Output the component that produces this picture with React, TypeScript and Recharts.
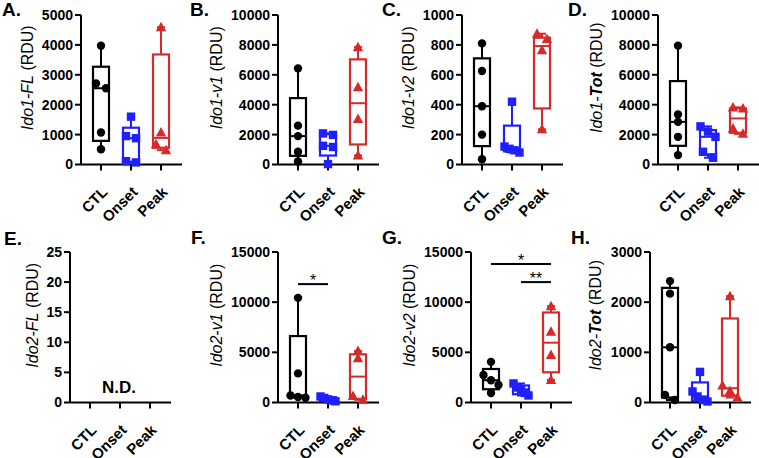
import React from 'react';
import { ComposedChart, Bar, Scatter, XAxis, YAxis, ReferenceLine } from 'recharts';

const FONT = '"Liberation Sans", Arial, Helvetica, sans-serif';
const CATEGORIES = ['CTL', 'Onset', 'Peak'];
const GROUP_COLORS = ['#000000', '#1f1fff', '#d62a2a'];

// ---------- Data (points per group; box = [min, q1, median, q3, max]) ----------
const A_TICKS = [0, 1000, 2000, 3000, 4000, 5000];
const A_POINTS = [[3970, 2710, 2550, 1070, 510], [1600, 950, 880, 110, 70], [4590, 1070, 680, 480]];
const A_BOXES = [[510, 790, 2550, 3270, 3970], [70, 90, 880, 1230, 1600], [480, 560, 890, 3680, 4590]];

const B_TICKS = [0, 2000, 4000, 6000, 8000, 10000];
const B_POINTS = [[6430, 2600, 1900, 850, 200], [2080, 1980, 1250, 1170, 30], [7850, 5160, 3040, 600]];
const B_BOXES = [[200, 580, 1900, 4440, 6430], [30, 600, 1250, 2030, 2080], [600, 1340, 4100, 7030, 7850]];

const C_TICKS = [0, 200, 400, 600, 800, 1000];
const C_POINTS = [[810, 625, 390, 200, 35], [420, 120, 105, 95, 80], [875, 840, 765, 235]];
const C_BOXES = [[35, 123, 390, 710, 810], [80, 88, 105, 260, 420], [235, 375, 792, 848, 875]];

const D_TICKS = [0, 2000, 4000, 6000, 8000, 10000];
const D_POINTS = [[7950, 3350, 2850, 1850, 630], [2550, 2200, 1850, 850, 450], [3820, 3750, 2400, 2050]];
const D_BOXES = [[630, 1250, 2850, 5580, 7950], [450, 680, 1850, 2300, 2550], [2050, 2120, 3080, 3750, 3820]];

const E_TICKS = [0, 5, 10, 15, 20, 25];
const E_POINTS: number[][] = [[], [], []];
const E_BOXES: (number[] | null)[] = [null, null, null];
const E_NOTE = 'N.D.';
const E_NOTE_AT = 'Onset';
const E_NOTE_Y = 1.6;

const F_TICKS = [0, 5000, 10000, 15000];
const F_POINTS = [[10430, 2900, 700, 550, 480], [600, 450, 300, 200, 120], [5130, 4400, 650, 270]];
const F_BOXES = [[480, 520, 700, 6620, 10430], [120, 160, 300, 525, 600], [270, 360, 2580, 4800, 5130]];
const F_SIG = [{ from: 'CTL', to: 'Onset', y: 11800, text: '*' }];

const G_TICKS = [0, 5000, 10000, 15000];
const G_POINTS = [[4050, 2750, 2220, 1750, 950], [1900, 1500, 1300, 950, 700], [9600, 7050, 4730, 2250]];
const G_BOXES = [[950, 1320, 2220, 3340, 4050], [700, 825, 1300, 1700, 1900], [2250, 3010, 5960, 8970, 9600]];
const G_SIG = [
  { from: 'CTL', to: 'Peak', y: 13800, text: '*' },
  { from: 'Onset', to: 'Peak', y: 12000, text: '**' },
];

const H_TICKS = [0, 1000, 2000, 3000];
const H_POINTS = [[2420, 2170, 1100, 150, 50], [610, 220, 120, 50, 20], [2120, 340, 230, 100]];
const H_BOXES = [[50, 100, 1100, 2285, 2420], [20, 35, 120, 400, 610], [100, 135, 285, 1675, 2120]];

type Part = { t: string; italic?: boolean; bold?: boolean };
const TITLE_A: Part[] = [{ t: 'Ido1-FL', italic: true }, { t: ' (RDU)' }];
const TITLE_B: Part[] = [{ t: 'Ido1-v1', italic: true }, { t: ' (RDU)' }];
const TITLE_C: Part[] = [{ t: 'Ido1-v2', italic: true }, { t: ' (RDU)' }];
const TITLE_D: Part[] = [{ t: 'Ido1-', italic: true }, { t: 'Tot', italic: true, bold: true }, { t: ' (RDU)' }];
const TITLE_E: Part[] = [{ t: 'Ido2-FL', italic: true }, { t: ' (RDU)' }];
const TITLE_F: Part[] = [{ t: 'Ido2-v1', italic: true }, { t: ' (RDU)' }];
const TITLE_G: Part[] = [{ t: 'Ido2-v2', italic: true }, { t: ' (RDU)' }];
const TITLE_H: Part[] = [{ t: 'Ido2-', italic: true }, { t: 'Tot', italic: true, bold: true }, { t: ' (RDU)' }];

// ---------- Layout ----------
const ROWS = [{ top: 15, h: 149.5 }, { top: 252, h: 150.5 }];
const YW = 60, MT = 12, MR = 8, XH = 60, PW = 101, PAD_L = 5, BAND = 30;

const PANELS = [
  { id: 'A', row: 0, axisX: 81, titleDist: 54, letter: [2, 16], ticks: A_TICKS, points: A_POINTS, boxes: A_BOXES, title: TITLE_A },
  { id: 'B', row: 0, axisX: 278, titleDist: 62, letter: [190, 16], ticks: B_TICKS, points: B_POINTS, boxes: B_BOXES, title: TITLE_B },
  { id: 'C', row: 0, axisX: 462, titleDist: 54, letter: [382, 16], ticks: C_TICKS, points: C_POINTS, boxes: C_BOXES, title: TITLE_C },
  { id: 'D', row: 0, axisX: 658, titleDist: 62, letter: [568, 16], ticks: D_TICKS, points: D_POINTS, boxes: D_BOXES, title: TITLE_D },
  { id: 'E', row: 1, axisX: 70, titleDist: 38, letter: [4, 245], ticks: E_TICKS, points: E_POINTS, boxes: E_BOXES, title: TITLE_E, note: E_NOTE, noteAt: E_NOTE_AT, noteY: E_NOTE_Y },
  { id: 'F', row: 1, axisX: 278, titleDist: 62, letter: [191, 244], ticks: F_TICKS, points: F_POINTS, boxes: F_BOXES, title: TITLE_F, sig: F_SIG },
  { id: 'G', row: 1, axisX: 471, titleDist: 62, letter: [382, 244], ticks: G_TICKS, points: G_POINTS, boxes: G_BOXES, title: TITLE_G, sig: G_SIG },
  { id: 'H', row: 1, axisX: 650, titleDist: 55, letter: [571, 244], ticks: H_TICKS, points: H_POINTS, boxes: H_BOXES, title: TITLE_H },
];

// ---------- Helpers ----------
function computeJitter(vals: number[], max: number, plotH: number): number[] {
  const order = vals.map((_, i) => i).sort((a, b) => vals[b] - vals[a]);
  const offs = new Array(vals.length).fill(0);
  let cluster: number[] = [];
  const flush = () => {
    const k = cluster.length;
    if (k > 1) {
      const s = Math.min(10, 15 / (k - 1));
      cluster.forEach((idx, i) => { offs[idx] = (i - (k - 1) / 2) * s; });
    }
    cluster = [];
  };
  order.forEach((idx, n) => {
    if (n > 0) {
      const prev = order[n - 1];
      const dpx = ((vals[prev] - vals[idx]) / max) * plotH;
      if (dpx >= 7) flush();
    }
    cluster.push(idx);
  });
  flush();
  return offs;
}

function buildRows(cfg: any, max: number, plotH: number) {
  return CATEGORIES.map((name, ci) => {
    const row: any = { name };
    const b = cfg.boxes[ci];
    row.range = b ? [b[0], b[4]] : null;
    row.box = b;
    const pts = cfg.points[ci] || [];
    const jit = computeJitter(pts, max, plotH);
    for (let k = 0; k < 5; k++) {
      row['p' + k] = k < pts.length ? pts[k] : null;
      row['j' + k] = jit[k] || 0;
    }
    row.note = cfg.note && cfg.noteAt === name ? cfg.noteY : null;
    row.noteText = cfg.note && cfg.noteAt === name ? cfg.note : null;
    return row;
  });
}

const BoxShape = (props: any) => {
  const { x, y, width, height, payload } = props;
  const b = payload && payload.box;
  if (!b || !isFinite(x) || !isFinite(y) || !isFinite(height)) return <g />;
  const [mn, q1, md, q3, mx] = b;
  const py = (v: number) => y + (height * (mx - v)) / (mx - mn);
  const color = GROUP_COLORS[CATEGORIES.indexOf(payload.name)];
  const cx = x + width / 2;
  const left = x + 1, right = x + width - 1;
  const cap = 4;
  return (
    <g>
      <line x1={cx} x2={cx} y1={py(mx)} y2={py(q3)} stroke={color} strokeWidth={2} />
      <line x1={cx} x2={cx} y1={py(q1)} y2={py(mn)} stroke={color} strokeWidth={2} />
      <line x1={cx - cap} x2={cx + cap} y1={py(mx)} y2={py(mx)} stroke={color} strokeWidth={2} />
      <line x1={cx - cap} x2={cx + cap} y1={py(mn)} y2={py(mn)} stroke={color} strokeWidth={2} />
      <rect x={left} y={py(q3)} width={right - left} height={py(q1) - py(q3)} fill="none" stroke={color} strokeWidth={2.2} />
      <line x1={left} x2={right} y1={py(md)} y2={py(md)} stroke={color} strokeWidth={2} />
    </g>
  );
};

const makePointShape = (k: number) => (props: any) => {
  const { cx, cy, payload } = props;
  const v = payload ? payload['p' + k] : null;
  if (v == null || !isFinite(cx) || !isFinite(cy)) return <g />;
  const ci = CATEGORIES.indexOf(payload.name);
  const color = GROUP_COLORS[ci];
  const px = cx + (payload['j' + k] || 0);
  if (ci === 0) return <circle cx={px} cy={cy} r={4.2} fill={color} />;
  if (ci === 1) return <rect x={px - 4.2} y={cy - 4.2} width={8.4} height={8.4} fill={color} />;
  return <polygon points={`${px},${cy - 5.5} ${px + 5.2},${cy + 4} ${px - 5.2},${cy + 4}`} fill={color} />;
};
const POINT_SHAPES = [0, 1, 2, 3, 4].map(makePointShape);

const NoteShape = (props: any) => {
  const { cx, cy, payload } = props;
  if (!payload || payload.noteText == null || !isFinite(cx) || !isFinite(cy)) return <g />;
  return (
    <text x={cx - 1} y={cy} textAnchor="middle" fontSize={17} fontWeight={700} fontFamily={FONT} fill="#000">
      {payload.noteText}
    </text>
  );
};

const SigLabel = (props: any) => {
  const { viewBox, text } = props;
  if (!viewBox) return null;
  return (
    <text x={viewBox.x + viewBox.width / 2} y={viewBox.y + 1.5} textAnchor="middle" fontSize={16} fontFamily={FONT} fill="#000">
      {text}
    </text>
  );
};

const X_TICK_STYLE: any = {
  angle: -45,
  textAnchor: 'end',
  verticalAnchor: 'middle',
  fontSize: 15,
  fontWeight: 700,
  fill: '#000',
  fontFamily: FONT,
};

function Panel({ cfg }: { cfg: any }) {
  const row = ROWS[cfg.row];
  const width = YW + PW + MR;
  const height = MT + row.h + XH;
  const max = cfg.ticks[cfg.ticks.length - 1];
  const data = buildRows(cfg, max, row.h);
  const axisStyle = { stroke: '#000', strokeWidth: 2 };
  return (
    <div style={{ position: 'absolute', left: cfg.axisX - YW, top: row.top - MT, width, height }}>
      <ComposedChart width={width} height={height} data={data} margin={{ top: MT, right: MR, bottom: 0, left: 0 }}>
        <XAxis
          dataKey="name"
          type="category"
          padding={{ left: PAD_L, right: PW - PAD_L - 3 * BAND }}
          height={XH}
          axisLine={axisStyle}
          tickLine={axisStyle}
          tickSize={6}
          tickMargin={15}
          interval={0}
          tick={X_TICK_STYLE}
        />
        <YAxis
          type="number"
          domain={[0, max]}
          ticks={cfg.ticks}
          width={YW}
          axisLine={axisStyle}
          tickLine={axisStyle}
          tickSize={6}
          tickMargin={2}
          interval={0}
          tick={{ fontSize: 14, fontWeight: 700, fill: '#000', fontFamily: FONT }}
        />
        <Bar dataKey="range" barSize={18} shape={BoxShape} isAnimationActive={false} />
        {POINT_SHAPES.map((shape, k) => (
          <Scatter key={k} dataKey={'p' + k} shape={shape} isAnimationActive={false} />
        ))}
        {cfg.note ? <Scatter dataKey="note" shape={NoteShape} isAnimationActive={false} /> : null}
        {(cfg.sig || []).map((s: any, i: number) => (
          <ReferenceLine
            key={'sig' + i}
            segment={[{ x: s.from, y: s.y }, { x: s.to, y: s.y }]}
            stroke="#000"
            strokeWidth={2}
            label={<SigLabel text={s.text} />}
          />
        ))}
      </ComposedChart>
    </div>
  );
}

function Overlay() {
  return (
    <svg width={759} height={458} style={{ position: 'absolute', left: 0, top: 0, pointerEvents: 'none' }}>
      {PANELS.map((p) => {
        const row = ROWS[p.row];
        const tx = p.axisX - p.titleDist;
        const ty = row.top + row.h / 2 - 12;
        return (
          <g key={p.id}>
            <text x={p.letter[0]} y={p.letter[1]} fontSize={19} fontWeight={700} fontFamily={FONT} fill="#000">
              {p.id + '.'}
            </text>
            <text transform={`translate(${tx},${ty}) rotate(-90)`} textAnchor="middle" dy="0.35em" fontSize={16} fontFamily={FONT} fill="#000">
              {p.title.map((part: Part, i: number) => (
                <tspan key={i} fontStyle={part.italic ? 'italic' : 'normal'} fontWeight={part.bold ? 700 : 400}>
                  {part.t}
                </tspan>
              ))}
            </text>
          </g>
        );
      })}
    </svg>
  );
}

export default function App() {
  return (
    <div style={{ position: 'absolute', left: 0, top: 0, width: 759, height: 458, overflow: 'hidden', background: '#fff' }}>
      {PANELS.map((p) => (
        <Panel key={p.id} cfg={p} />
      ))}
      <Overlay />
    </div>
  );
}
